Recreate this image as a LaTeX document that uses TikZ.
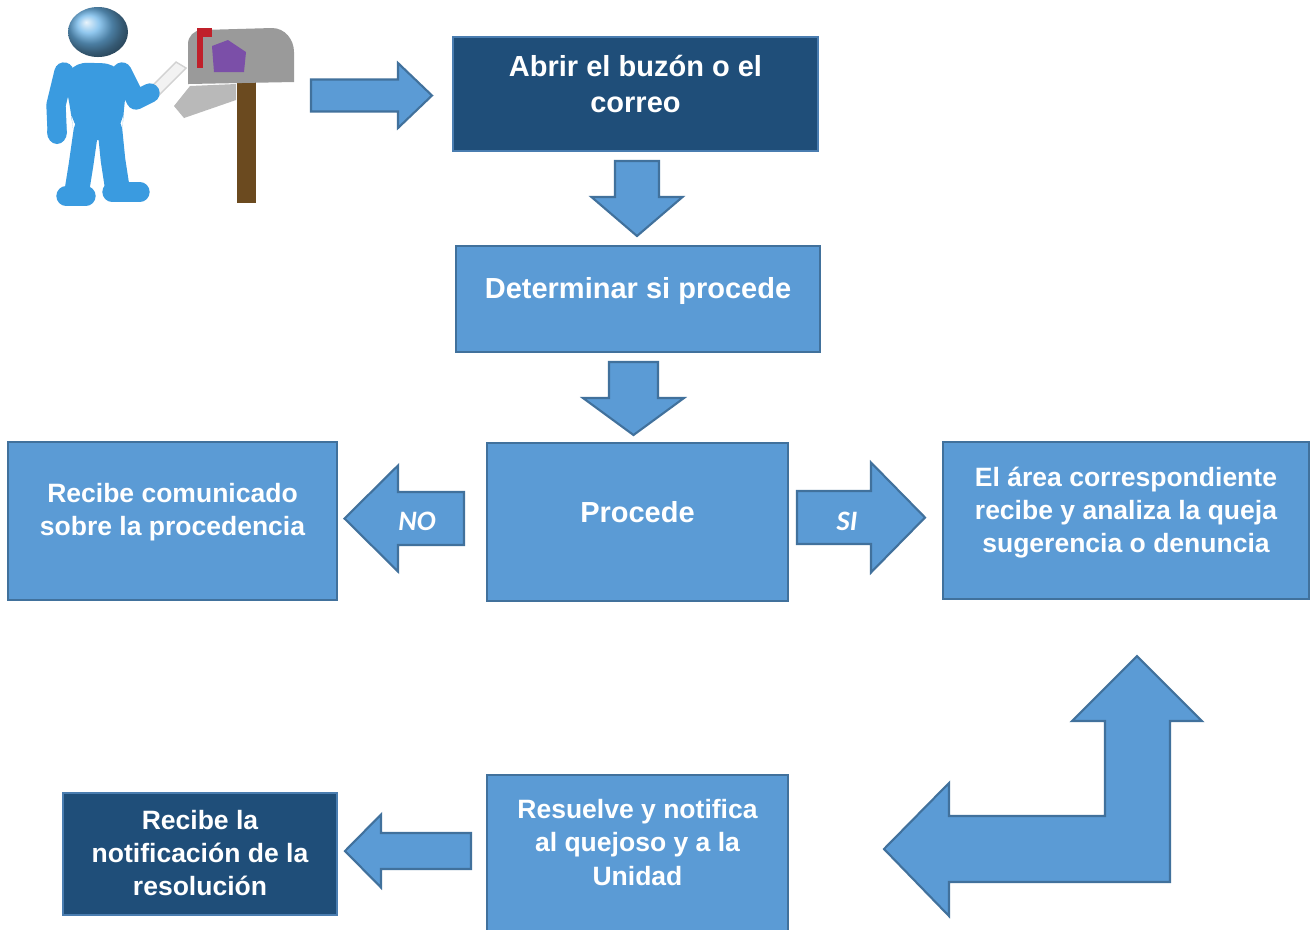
\documentclass[tikz,border=0pt]{standalone}
\usepackage{fontspec}
\setmainfont{Liberation Sans}
\newfontfamily\calibrifont{Carlito}
\usepackage{tikz}
\usetikzlibrary{positioning, calc}

\definecolor{boxblue}{HTML}{5B9BD5}
\definecolor{boxedge}{HTML}{41719C}
\definecolor{boxdark}{HTML}{1F4E79}
\definecolor{darkedge}{HTML}{4A7DB0}
\definecolor{manblue}{HTML}{3A9BE0}
\definecolor{mailgray}{HTML}{9A9A9A}
\definecolor{postbrown}{HTML}{6B4A1F}
\definecolor{flagred}{HTML}{C0202A}
\definecolor{stickerpurple}{HTML}{7B4FA8}

\tikzstyle{light_box} = [
    rectangle,
    draw=boxedge,
    fill=boxblue,
    line width=0.6pt,
    inner sep=0pt
]
\tikzstyle{dark_box} = [
    rectangle,
    draw=darkedge,
    fill=boxdark,
    line width=0.6pt,
    inner sep=0pt
]
\tikzstyle{box_text} = [
    white,
    font=\bfseries\fontsize{7.54}{9.4}\selectfont,
    align=center,
    inner sep=0pt
]
\tikzstyle{big_text} = [
    box_text,
    font=\bfseries\fontsize{8.25}{10.24}\selectfont
]
\tikzstyle{arrow_text} = [
    white,
    font=\calibrifont\bfseries\itshape\fontsize{8}{9}\selectfont,
    inner sep=0pt
]
\tikzstyle{block_arrow} = [
    fill=boxblue,
    draw=boxedge,
    line width=0.6pt,
    line join=miter
]
\tikzstyle{man_limb} = [
    draw=manblue,
    line width=5.5pt,
    line cap=round,
    line join=round
]

% tail at the origin, pointing along x: length, shaft, head width, head length
\tikzset{
    pics/block arrow/.style n args={4}{
        code={
            \draw[block_arrow] (0,-#2/2) -- (#1-#4,-#2/2) -- (#1-#4,-#3/2)
                -- (#1,0) -- (#1-#4,#3/2) -- (#1-#4,#2/2) -- (0,#2/2) -- cycle;
        }
    }
}

\begin{document}
\begin{tikzpicture}[x=0.01cm, y=-0.01cm]
\path[use as bounding box, fill=white] (0,0) rectangle (1314,929);

% man and mailbox
\fill[postbrown] (237,80) rectangle (256,203);
\fill[mailgray] (188,84) -- (188,44) to[out=90,in=180] (202,30) -- (272,28)
    to[out=0,in=90] (294,52) -- (294,82) -- cycle;
\fill[gray!55] (174,106) -- (190,86) -- (236,84) -- (236,100) -- (184,118) -- cycle;
\fill[flagred] (197,32) rectangle (203,68);
\fill[flagred] (197,28) rectangle (212,37);
\fill[stickerpurple] (212,46) -- (228,40) -- (246,52) -- (244,72) -- (214,72) -- cycle;
\filldraw[fill=gray!10, draw=gray!35] (146,92) -- (176,62) -- (186,68) -- (156,98) -- cycle;
\draw[man_limb] (64,72) -- (56,105) -- (57,128);
\fill[manblue] (57,132) ellipse [x radius=10, y radius=12];
\draw[man_limb] (122,72) -- (136,100) -- (150,93);
\draw[man_limb, line width=7pt] (86,130) -- (81,165) -- (77,190);
\draw[man_limb, line width=7pt] (110,130) -- (113,160) -- (117,186);
\draw[man_limb] (66,196) -- (86,196);
\draw[man_limb] (112,192) -- (140,192);
\fill[manblue, rounded corners=8] (60,62) -- (130,64) -- (124,100) -- (122,140)
    -- (74,140) -- (70,100) -- cycle;
\shade[ball color=manblue!75!white] (98,32) ellipse [x radius=30, y radius=25];

% boxes
\node[dark_box, minimum width=3.65cm, minimum height=1.14cm] (abrir) at (635.5,94) {};
\node[light_box, minimum width=3.64cm, minimum height=1.06cm] (determinar) at (638,299) {};
\node[light_box, minimum width=3.01cm, minimum height=1.58cm] (procede) at (637.5,522) {};
\node[light_box, minimum width=3.29cm, minimum height=1.58cm] (comunicado) at (172.5,521) {};
\node[light_box, minimum width=3.66cm, minimum height=1.57cm] (area) at (1126,520.5) {};
\node[light_box, minimum width=3.01cm, minimum height=1.60cm] (resuelve) at (637.5,855) {};
\node[dark_box, minimum width=2.74cm, minimum height=1.22cm] (notificacion) at (200,854) {};

% texts
\node[big_text] (abrir_text) at ($(abrir)+(0,-10)$) {Abrir el buzón o el\\correo};
\node[big_text] (determinar_text) at ($(determinar)+(0,-8)$) {Determinar si procede};
\node[big_text] (procede_text) at ($(procede)+(0,-10)$) {Procede};
\node[box_text] (comunicado_text) at ($(comunicado)+(0,-8.5)$)
    {Recibe comunicado\\sobre la procedencia};
\node[box_text] (area_text) at ($(area)+(0,-7.5)$)
    {El área correspondiente\\recibe y analiza la queja\\sugerencia o denuncia};
\node[box_text] (resuelve_text) at ($(resuelve)+(0,-12.5)$)
    {Resuelve y notifica\\al quejoso y a la\\Unidad};
\node[box_text] (notificacion_text) at ($(notificacion)+(0,-1)$)
    {Recibe la\\notificación de la\\resolución};

% block arrows
\pic at (311,95.5) {block arrow={121}{32}{65}{34}};
\pic[rotate=-90] at (637,161) {block arrow={75}{44}{91}{39}};
\pic[rotate=-90] at (633.5,362) {block arrow={73}{49}{101}{37}};
\pic[rotate=180] at (464,518.5) {block arrow={119.5}{53}{106}{53.5}};
\pic at (797,517.5) {block arrow={128}{53}{110}{54}};
\pic[rotate=180] at (471,851) {block arrow={126}{36}{73}{36}};
\draw[block_arrow] (1137,656) -- (1202,721) -- (1170,721) -- (1170,882) -- (949,882)
    -- (949,916) -- (884,849) -- (949,783) -- (949,816) -- (1105,816) -- (1105,721)
    -- (1072,721) -- cycle;

\node[arrow_text] (no_label) at (417,521) {NO};
\node[arrow_text] (si_label) at (847,521) {SI};
\end{tikzpicture}
\end{document}
